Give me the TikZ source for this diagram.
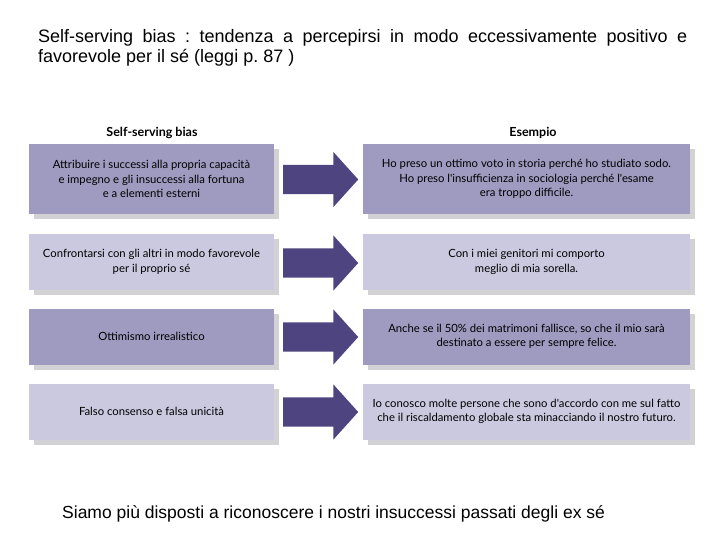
\documentclass[tikz,border=0pt]{standalone}
\usepackage{fontspec}
\setmainfont{Liberation Sans}
\newfontfamily\boxfont{Lato}
\usetikzlibrary{positioning,shapes.arrows,shadows}
\definecolor{biasdark}{HTML}{9F9ABF}
\definecolor{biaslight}{HTML}{CBC9DF}
\definecolor{biasarrow}{HTML}{4E4480}
\definecolor{biasshadow}{HTML}{D2D2D4}
\frenchspacing

\begin{document}
\begin{tikzpicture}[x=1pt, y=-1pt,
      box/.style={rectangle, inner sep=2pt, align=center,
        font=\boxfont\fontsize{11.3}{14.5}\selectfont,
        drop shadow={shadow xshift=5pt, shadow yshift=-5pt, fill=biasshadow, opacity=1}},
      lbox/.style={box, minimum width=245pt},
      rbox/.style={box, minimum width=327pt},
      head/.style={font=\boxfont\bfseries\fontsize{12.5}{14}\selectfont},
      blockarr/.style={single arrow, fill=biasarrow, inner xsep=0pt, inner ysep=14.5pt,
        minimum height=75pt, single arrow head extend=13pt,
        single arrow tip angle=96, anchor=tail}
    ]
      \useasboundingbox (0,0) rectangle (720,540);
      \node[anchor=base west, inner sep=0pt, text width=649pt, align=justify,
        font=\fontsize{18}{20}\selectfont] (title) at (38,43)
        {Self-serving bias : tendenza a percepirsi in modo eccessivamente positivo e\linebreak favorevole per il sé (leggi p. 87 )};
      \node[head] (hbias) at (152,133) {Self-serving bias};
      \node[head] (hes) at (533,133) {Esempio};
      % rows
      \node[lbox, fill=biasdark, minimum height=70pt]  (b1) at (151.5,179) {Attribuire i successi alla propria capacità\\e impegno e gli insuccessi alla fortuna\\e a elementi esterni};
      \node[rbox, fill=biasdark, minimum height=70pt]  (e1) at (526.5,179) {Ho preso un ottimo voto in storia perché ho studiato sodo.\\Ho preso l'insufficienza in sociologia perché l'esame\\era troppo difficile.};
      \node[lbox, fill=biaslight, minimum height=56pt] (b2) at (151.5,262) {Confrontarsi con gli altri in modo favorevole\\per il proprio sé};
      \node[rbox, fill=biaslight, minimum height=56pt] (e2) at (526.5,262) {Con i miei genitori mi comporto\\meglio di mia sorella.};
      \node[lbox, fill=biasdark, minimum height=56pt]  (b3) at (151.5,336.5) {Ottimismo irrealistico};
      \node[rbox, fill=biasdark, minimum height=56pt]  (e3) at (526.5,336.5) {Anche se il 50\% dei matrimoni fallisce, so che il mio sarà\\destinato a essere per sempre felice.};
      \node[lbox, fill=biaslight, minimum height=56pt] (b4) at (151.5,411.5) {Falso consenso e falsa unicità};
      \node[rbox, fill=biaslight, minimum height=56pt] (e4) at (526.5,411.5) {Io conosco molte persone che sono d'accordo con me sul fatto\\che il riscaldamento globale sta minacciando il nostro futuro.};
      \foreach \i/\y in {1/179.5, 2/263, 3/337, 4/412}
        \node[blockarr] (a\i) at (283,\y) {};
      \node[anchor=base west, inner sep=0pt, font=\fontsize{17.5}{20}\selectfont] (note) at (62,518)
        {Siamo più disposti a riconoscere i nostri insuccessi passati degli ex sé};
    \end{tikzpicture}
\end{document}
